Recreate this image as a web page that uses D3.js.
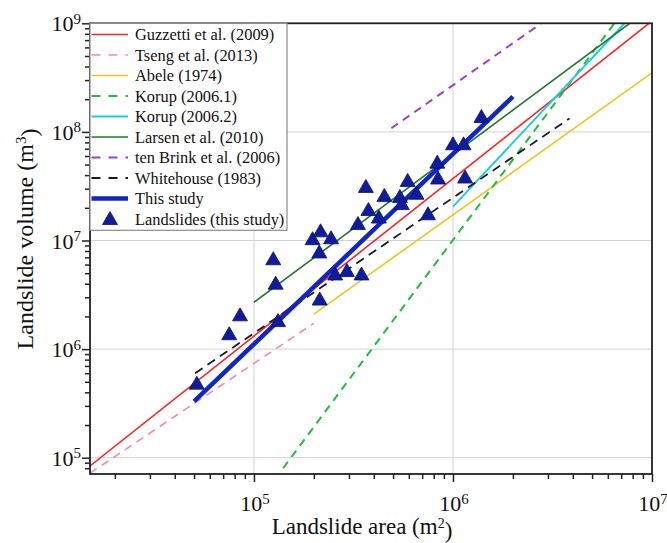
<!DOCTYPE html>
<html>
<head>
<meta charset="utf-8">
<script src="https://cdn.jsdelivr.net/npm/d3@7"></script>
<style>
  body { margin: 0; background: #fff; }
  svg { display: block; }
  text { font-family: "Liberation Serif", "DejaVu Serif", "Times New Roman", serif; fill: #111; }
</style>
</head>
<body>
<svg id="chart" width="667" height="543"></svg>
<script>
// Axis ranges and decade tick values
const areaDomain = [1.5e4, 1e7];
const volumeDomain = [7.08e4, 1e9];
const areaMajorTicks = [1e5, 1e6, 1e7];
const volumeMajorTicks = [1e5, 1e6, 1e7, 1e8, 1e9];

// Published area–volume relations: legend names and the [area, volume] end points of each fitted line
const relationNames = [
  "Guzzetti et al. (2009)",
  "Tseng et al. (2013)",
  "Abele (1974)",
  "Korup (2006.1)",
  "Korup (2006.2)",
  "Larsen et al. (2010)",
  "ten Brink et al. (2006)",
  "Whitehouse (1983)",
  "This study"
];
const relationEnds = [
  [[1.5e4, 8.4e4], [1e7, 1.05e9]],
  [[1.5e4, 7.2e4], [2.0e5, 1.73e6]],
  [[2.0e5, 2.1e6], [1e7, 3.5e8]],
  [[1.4e5, 8.0e4], [6.47e6, 1e9]],
  [[1.0e6, 2.05e7], [7.28e6, 1e9]],
  [[1.0e5, 2.7e6], [7.73e6, 1e9]],
  [[4.9e5, 1.08e8], [2.78e6, 1e9]],
  [[5.06e4, 6.0e5], [3.85e6, 1.33e8]],
  [[5.0e4, 3.3e5], [2.0e6, 2.11e8]]
];

// Landslides of this study: area (m²) and volume (m³)
const landslideArea = [
  5.16e4, 7.51e4, 8.51e4, 1.25e5, 1.285e5, 1.32e5, 1.97e5, 2.16e5, 2.44e5, 2.13e5,
  2.14e5, 2.56e5, 2.93e5, 3.47e5, 3.33e5, 3.65e5, 3.76e5, 4.24e5, 4.52e5, 5.41e5,
  5.53e5, 5.92e5, 6.56e5, 7.49e5, 8.34e5, 8.41e5, 1.0e6, 1.13e6, 1.15e6, 1.39e6
];
const landslideVolume = [
  4.91e5, 1.40e6, 2.09e6, 6.86e6, 4.09e6, 1.85e6, 1.05e7, 1.24e7, 1.07e7, 7.93e6,
  2.92e6, 4.97e6, 5.35e6, 4.97e6, 1.45e7, 3.18e7, 1.95e7, 1.66e7, 2.62e7, 2.57e7,
  2.21e7, 3.61e7, 2.75e7, 1.78e7, 5.32e7, 3.80e7, 7.85e7, 7.85e7, 3.88e7, 1.40e8
];
const landslideLabel = "Landslides (this study)";

// Line styles for each relation
const relationColors = ["#fb2222", "#f686b6", "#efc51c", "#22bb3a", "#1ccde0", "#22782a", "#9c3fd0", "#1a1a1a", "#1226c4"];
const relationDashes = [null, "8,6", null, "8,6", null, null, "8,6", "9,6", null];
const relationWidths = [1.6, 1.6, 1.6, 2, 2, 1.6, 2, 1.8, 4.5];

const svg = d3.select("#chart");
const plotLeft = 90, plotRight = 652, plotTop = 23.3, plotBottom = 474;

const x = d3.scaleLog().domain(areaDomain).range([plotLeft, plotRight]);
const y = d3.scaleLog().domain(volumeDomain).range([plotBottom, plotTop]);

// Grid lines at each decade
const grid = svg.append("g").attr("stroke", "#d2d2d2").attr("stroke-width", 1);
grid.selectAll("line.gx").data(areaMajorTicks.filter(d => d < areaDomain[1]))
  .join("line").attr("class", "gx")
  .attr("x1", d => x(d)).attr("x2", d => x(d)).attr("y1", plotTop).attr("y2", plotBottom);
grid.selectAll("line.gy").data(volumeMajorTicks.filter(d => d < volumeDomain[1]))
  .join("line").attr("class", "gy")
  .attr("x1", plotLeft).attr("x2", plotRight).attr("y1", d => y(d)).attr("y2", d => y(d));

// Clip for the relation lines
svg.append("defs").append("clipPath").attr("id", "plotClip")
  .append("rect").attr("x", plotLeft).attr("y", plotTop)
  .attr("width", plotRight - plotLeft).attr("height", plotBottom - plotTop);

const lineGen = d3.line().x(d => x(d[0])).y(d => y(d[1]));
const lines = svg.append("g").attr("clip-path", "url(#plotClip)");
relationEnds.forEach((ends, i) => {
  lines.append("path")
    .attr("d", lineGen(ends))
    .attr("fill", "none")
    .attr("stroke", relationColors[i])
    .attr("stroke-width", relationWidths[i])
    .attr("stroke-dasharray", relationDashes[i]);
});

// Triangle marker centred on its bounding box
const triW = 15, triH = 13;
const triangle = (w, h) => `M0,${-h / 2}L${w / 2},${h / 2}L${-w / 2},${h / 2}Z`;
const points = d3.range(landslideArea.length).map(i => [landslideArea[i], landslideVolume[i]]);
svg.append("g").selectAll("path").data(points).join("path")
  .attr("transform", d => `translate(${x(d[0])},${y(d[1])})`)
  .attr("d", triangle(triW, triH))
  .attr("fill", "#101c9a")
  .attr("stroke", "#06106e")
  .attr("stroke-width", 0.8);

// Minor tick values between decades
function minorTicks(domain) {
  const out = [];
  for (let e = Math.floor(Math.log10(domain[0])); e <= Math.ceil(Math.log10(domain[1])); e++) {
    for (let m = 2; m <= 9; m++) {
      const v = m * Math.pow(10, e);
      if (v >= domain[0] && v <= domain[1]) out.push(v);
    }
  }
  return out;
}

// Bottom axis
const xMajor = d3.axisBottom(x).tickValues(areaMajorTicks).tickSize(8).tickFormat("");
const xMinor = d3.axisBottom(x).tickValues(minorTicks(areaDomain)).tickSize(5).tickFormat("");
const gxMinor = svg.append("g").attr("transform", `translate(0,${plotBottom})`).call(xMinor);
const gxMajor = svg.append("g").attr("transform", `translate(0,${plotBottom})`).call(xMajor);
[gxMinor, gxMajor].forEach(g => {
  g.select(".domain").remove();
  g.selectAll("line").attr("stroke", "#222").attr("stroke-width", 1.5);
});

// Left axis
const yMajor = d3.axisLeft(y).tickValues(volumeMajorTicks).tickSize(8).tickFormat("");
const yMinor = d3.axisLeft(y).tickValues(minorTicks(volumeDomain)).tickSize(5).tickFormat("");
const gyMinor = svg.append("g").attr("transform", `translate(${plotLeft},0)`).call(yMinor);
const gyMajor = svg.append("g").attr("transform", `translate(${plotLeft},0)`).call(yMajor);
[gyMinor, gyMajor].forEach(g => {
  g.select(".domain").remove();
  g.selectAll("line").attr("stroke", "#222").attr("stroke-width", 1.5);
});

// Power-of-ten tick labels
function powerLabel(sel, v) {
  sel.text("10");
  sel.append("tspan").attr("dy", "-0.5em").attr("font-size", "15px").text(Math.round(Math.log10(v)));
}
svg.append("g").selectAll("text").data(areaMajorTicks).join("text")
  .attr("x", d => x(d) + 1).attr("y", 511)
  .attr("text-anchor", "middle").attr("font-size", "22px")
  .each(function (d) { powerLabel(d3.select(this), d); });
svg.append("g").selectAll("text").data(volumeMajorTicks).join("text")
  .attr("x", 81).attr("y", d => y(d) + 8)
  .attr("text-anchor", "end").attr("font-size", "22px")
  .each(function (d) { powerLabel(d3.select(this), d); });

// Plot frame
svg.append("rect").attr("x", plotLeft).attr("y", plotTop)
  .attr("width", plotRight - plotLeft).attr("height", plotBottom - plotTop)
  .attr("fill", "none").attr("stroke", "#222").attr("stroke-width", 1.8);

// Axis titles
const xt = svg.append("text").attr("x", 362).attr("y", 534).attr("text-anchor", "middle").attr("font-size", "23px");
xt.append("tspan").text("Landslide area (m");
xt.append("tspan").attr("dy", "-0.4em").attr("font-size", "14px").text("2");
xt.append("tspan").attr("dy", "0.4em").text(")");

const yt = svg.append("text").attr("transform", "translate(33,239) rotate(-90)").attr("text-anchor", "middle").attr("font-size", "24px");
yt.append("tspan").text("Landslide volume (m");
yt.append("tspan").attr("dy", "-0.45em").attr("font-size", "15px").text("3");
yt.append("tspan").attr("dy", "0.45em").text(")");

// Legend
const legend = svg.append("g");
legend.append("rect").attr("x", plotLeft).attr("y", plotTop).attr("width", 197).attr("height", 207)
  .attr("fill", "#fff").attr("stroke", "#8c8c8c").attr("stroke-width", 1.2);
const rowY = i => 34.5 + i * 20.5;
relationNames.forEach((name, i) => {
  legend.append("line")
    .attr("x1", 91.5).attr("x2", 128).attr("y1", rowY(i)).attr("y2", rowY(i))
    .attr("stroke", relationColors[i])
    .attr("stroke-width", relationWidths[i])
    .attr("stroke-dasharray", relationDashes[i] ? "9,8" : null);
  legend.append("text").attr("x", 135).attr("y", rowY(i)).attr("dy", "0.35em")
    .attr("font-size", "16.4px").text(name);
});
const li = relationNames.length;
legend.append("path")
  .attr("transform", `translate(110,${rowY(li) - 1})`)
  .attr("d", triangle(triW, triH))
  .attr("fill", "#101c9a").attr("stroke", "#06106e").attr("stroke-width", 0.8);
legend.append("text").attr("x", 135).attr("y", rowY(li)).attr("dy", "0.35em")
  .attr("font-size", "16.4px").text(landslideLabel);
</script>
</body>
</html>
